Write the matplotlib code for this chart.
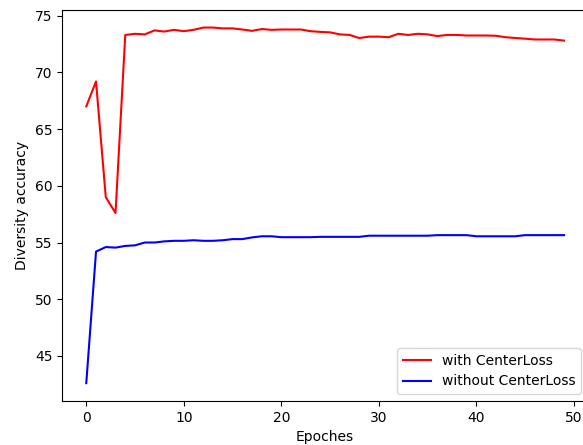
import matplotlib
matplotlib.use("Agg")
import matplotlib.pyplot as plt

# accuracy per epoch
epochs = list(range(50))
with_center = [67.0, 69.2, 59.0, 57.6, 73.3, 73.4, 73.35, 73.7, 73.6, 73.75,
               73.63, 73.75, 73.95, 73.95, 73.88, 73.88, 73.78, 73.66, 73.82, 73.75,
               73.78, 73.78, 73.78, 73.63, 73.57, 73.53, 73.35, 73.3, 73.03, 73.15,
               73.15, 73.1, 73.4, 73.3, 73.4, 73.35, 73.2, 73.3, 73.3, 73.25,
               73.25, 73.25, 73.23, 73.1, 73.03, 72.97, 72.9, 72.9, 72.9, 72.8]
without_center = [42.6, 54.2, 54.6, 54.55, 54.7, 54.75, 55.0, 55.0, 55.1, 55.15,
                  55.15, 55.2, 55.15, 55.15, 55.2, 55.3, 55.3, 55.45, 55.55, 55.55,
                  55.47, 55.47, 55.47, 55.47, 55.5, 55.5, 55.5, 55.5, 55.5, 55.6,
                  55.6, 55.6, 55.6, 55.6, 55.6, 55.6, 55.65, 55.65, 55.65, 55.65,
                  55.55, 55.55, 55.55, 55.55, 55.55, 55.65, 55.65, 55.65, 55.65, 55.65]

fig = plt.figure(figsize=(5.83, 4.45), dpi=100)
ax = fig.add_axes([0.107, 0.099, 0.9015, 0.879])
ax.plot(epochs, with_center, color="red", label="with CenterLoss")
ax.plot(epochs, without_center, color="blue", label="without CenterLoss")
ax.set_xlabel("Epoches")
ax.set_ylabel("Diversity accuracy")
ax.legend(loc="lower right")
fig.savefig("out.png", dpi=100)
